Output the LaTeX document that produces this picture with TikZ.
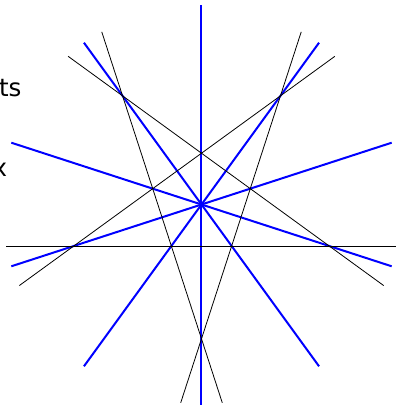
\documentclass[tikz,border=0pt]{standalone}
\usepackage{fontspec}
\setmainfont{DejaVu Sans}
\usetikzlibrary{calc}
\definecolor{StarBlue}{HTML}{0000FF}

\begin{document}
\begin{tikzpicture}[x=0.75pt,y=0.75pt,
    ray/.style={StarBlue,line width=1.5pt},
    side/.style={black,line width=0.6pt},
    lbl/.style={anchor=base east,inner sep=0pt,font=\fontsize{18.4}{22}\selectfont}]
  \useasboundingbox (-201.5,-200.5) rectangle (194.5,204.5);
  \coordinate (centre) at (0,0);
  % rays through the centre
  \foreach \a in {270,342,54,126,198}
    \draw[ray] ($(centre)+(\a:200)$) -- ($(centre)+({\a+180}:200)$);
  % pentagon sides, extended
  \foreach \a in {270,342,54,126,198}
    \draw[side] ($(centre)+(\a:41.5)+({\a+90}:195)$) -- ($(centre)+(\a:41.5)+({\a-90}:195)$);
  \node[lbl] (pts) at (-179.8,107.8) {ts};
  \node[lbl] (lbx) at (-194.1,28.5) {x};
\end{tikzpicture}
\end{document}
